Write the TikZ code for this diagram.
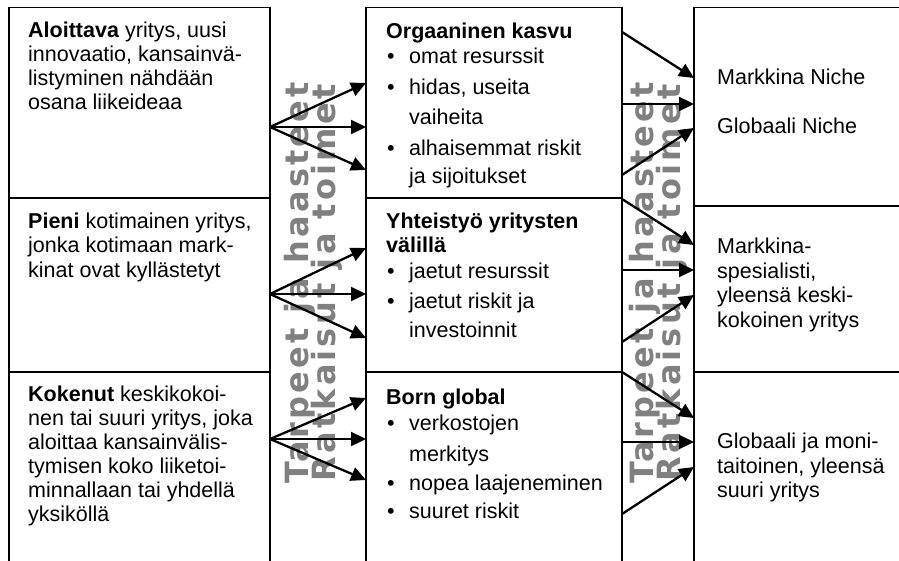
\documentclass[tikz,border=0pt]{standalone}
\usepackage{fontspec}
\setmainfont{Liberation Sans}
\newfontfamily\rotfont{DejaVu Sans Bold}[LetterSpace=10]
\usetikzlibrary{arrows.meta}
\definecolor{rotgray}{RGB}{128,128,128}
\tikzset{
  boxline/.style={line width=1.6pt},
  conn/.style={line width=2.3pt,-{Triangle[length=15pt,width=14pt]}},
  txt/.style={anchor=base west,inner sep=0pt,font=\fontsize{21.5}{24}\selectfont},
  bul/.style={anchor=base,inner sep=0pt,font=\fontsize{21.5}{24}\selectfont},
  rotlbl/.style={rotate=90,inner sep=0pt,text=rotgray,font=\rotfont\fontsize{32}{32}\selectfont}
}
\begin{document}
\begin{tikzpicture}[x=1pt,y=-1pt]
\useasboundingbox (0,0) rectangle (899,561);
% boxes
\draw[boxline] (9,561) -- (9,7.5) -- (270,7.5) -- (270,561);
\draw[boxline] (9,198) -- (270,198);
\draw[boxline] (9,372) -- (270,372);
\draw[boxline] (366,561) -- (366,7.5) -- (622,7.5) -- (622,561);
\draw[boxline] (366,198) -- (622,198);
\draw[boxline] (366,372) -- (622,372);
\draw[boxline] (899,7.5) -- (694,7.5) -- (694,561);
\draw[boxline] (694,206) -- (899,206);
\draw[boxline] (694,372) -- (899,372);
% rotated labels
\node[rotlbl] (ra1) at (300,283) {Tarpeet ja haasteet};
\node[rotlbl] (ra2) at (327,283) {Ratkaisut ja toimet};
\node[rotlbl] (rb1) at (645,283) {Tarpeet ja haasteet};
\node[rotlbl] (rb2) at (672,283) {Ratkaisut ja toimet};
% left column text
\node[txt] (a1) at (28,38) {\textbf{Aloittava} yritys, uusi};
\node[txt] (a2) at (28,62) {innovaatio, kansainvä-};
\node[txt] (a3) at (28,86) {listyminen nähdään};
\node[txt] (a4) at (28,110) {osana liikeideaa};
\node[txt] (b1) at (28,229) {\textbf{Pieni} kotimainen yritys,};
\node[txt] (b2) at (28,253) {jonka kotimaan mark-};
\node[txt] (b3) at (28,277) {kinat ovat kyllästetyt};
\node[txt] (c1) at (28,401) {\textbf{Kokenut} keskikokoi-};
\node[txt] (c2) at (28,425) {nen tai suuri yritys, joka};
\node[txt] (c3) at (28,449) {aloittaa kansainvälis-};
\node[txt] (c4) at (28,473) {tymisen koko liiketoi-};
\node[txt] (c5) at (28,497) {minnallaan tai yhdellä};
\node[txt] (c6) at (28,521) {yksiköllä};
% middle column text
\node[txt] (d0) at (386,39) {\textbf{Orgaaninen kasvu}};
\node[bul] (db1) at (391,64) {•};
\node[txt] (d1) at (409,64) {omat resurssit};
\node[bul] (db2) at (391,95) {•};
\node[txt] (d2) at (409,95) {hidas, useita};
\node[txt] (d3) at (409,125) {vaiheita};
\node[bul] (db3) at (391,156) {•};
\node[txt] (d4) at (409,156) {alhaisemmat riskit};
\node[txt] (d5) at (409,184) {ja sijoitukset};
\node[txt] (e0) at (386,229) {\textbf{Yhteistyö yritysten}};
\node[txt] (e0b) at (386,253) {\textbf{välillä}};
\node[bul] (eb1) at (391,278) {•};
\node[txt] (e1) at (409,278) {jaetut resurssit};
\node[bul] (eb2) at (391,308) {•};
\node[txt] (e2) at (409,308) {jaetut riskit ja};
\node[txt] (e3) at (409,337) {investoinnit};
\node[txt] (f0) at (386,404) {\textbf{Born global}};
\node[bul] (fb1) at (391,430) {•};
\node[txt] (f1) at (409,430) {verkostojen};
\node[txt] (f2) at (409,461) {merkitys};
\node[bul] (fb2) at (391,490) {•};
\node[txt] (f3) at (409,490) {nopea laajeneminen};
\node[bul] (fb3) at (391,518) {•};
\node[txt] (f4) at (409,518) {suuret riskit};
% right column text
\node[txt] (g1) at (717,85) {Markkina Niche};
\node[txt] (g2) at (717,134) {Globaali Niche};
\node[txt] (h1) at (717,254) {Markkina-};
\node[txt] (h2) at (717,278) {spesialisti,};
\node[txt] (h3) at (717,302) {yleensä keski-};
\node[txt] (h4) at (717,327) {kokoinen yritys};
\node[txt] (k1) at (717,448) {Globaali ja moni-};
\node[txt] (k2) at (717,473) {taitoinen, yleensä};
\node[txt] (k3) at (717,497) {suuri yritys};
% connector coordinates, left gap
\coordinate (lo1) at (270,127);
\coordinate (lo2) at (270,294);
\coordinate (lo3) at (270,439);
\coordinate (le11) at (366,83);  \coordinate (le12) at (366,127); \coordinate (le13) at (366,170);
\coordinate (le21) at (366,248); \coordinate (le22) at (366,294); \coordinate (le23) at (366,338);
\coordinate (le31) at (366,398); \coordinate (le32) at (366,439); \coordinate (le33) at (366,480);
\foreach \g in {1,2,3}{\foreach \k in {1,2,3}{\draw[conn] (lo\g) -- (le\g\k);}}
% right gap
\coordinate (rs11) at (622,32);  \coordinate (re11) at (694,78);
\coordinate (rs12) at (622,104); \coordinate (re12) at (694,104);
\coordinate (rs13) at (622,175); \coordinate (re13) at (694,128);
\coordinate (rs21) at (622,199); \coordinate (re21) at (694,245);
\coordinate (rs22) at (622,270); \coordinate (re22) at (694,270);
\coordinate (rs23) at (622,342); \coordinate (re23) at (694,295);
\coordinate (rs31) at (622,372); \coordinate (re31) at (694,418);
\coordinate (rs32) at (622,442); \coordinate (re32) at (694,442);
\coordinate (rs33) at (622,514); \coordinate (re33) at (694,467);
\foreach \g in {1,2,3}{\foreach \k in {1,2,3}{\draw[conn] (rs\g\k) -- (re\g\k);}}
\end{tikzpicture}
\end{document}
